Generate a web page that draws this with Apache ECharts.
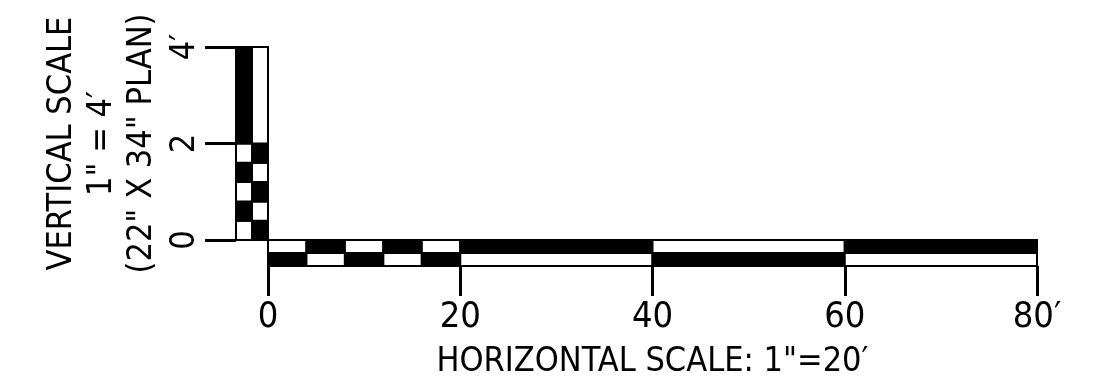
<!DOCTYPE html>
<html>
<head>
<meta charset="utf-8">
<script src="https://cdn.jsdelivr.net/npm/echarts@6/dist/echarts.min.js"></script>
<style>
  html, body { margin: 0; padding: 0; background: #fff; }
  #chart { width: 1110px; height: 380px; }
</style>
</head>
<body>
<div id="chart"></div>
<script>
// horizontal scale, feet
const hBreaks = [0, 4, 8, 12, 16, 20, 40, 60, 80];
const hTicks = [0, 20, 40, 60, 80];
const hTickLabels = ['0', '20', '40', '60', '80′'];
const hTitle = 'HORIZONTAL SCALE: 1"=20′';

// vertical scale, feet
const vBreaks = [0, 0.4, 0.8, 1.2, 1.6, 2, 4];
const vTicks = [0, 2, 4];
const vTickLabels = ['0', '2', '4′'];
const vTitle = ['VERTICAL SCALE', '1" = 4′', '(22" X 34" PLAN)'];

const FONT = '"Liberation Sans Narrow", "DejaVu Sans Condensed", sans-serif';

// cells: first segment of the top row / left column is white, then they alternate
const hCells = [];
for (let i = 0; i < hBreaks.length - 1; i++) {
  hCells.push([hBreaks[i], hBreaks[i + 1], 1, i % 2 === 0 ? 0 : 1]);
  hCells.push([hBreaks[i], hBreaks[i + 1], 0, i % 2 === 0 ? 1 : 0]);
}
const vCells = [];
for (let i = 0; i < vBreaks.length - 1; i++) {
  vCells.push([0, vBreaks[i], vBreaks[i + 1], i % 2 === 0 ? 0 : 1]);
  vCells.push([1, vBreaks[i], vBreaks[i + 1], i % 2 === 0 ? 1 : 0]);
}

const fills = ['#fff', '#000'];

function hRect(params, api) {
  const a = api.coord([api.value(0), api.value(2) + 1]);
  const b = api.coord([api.value(1), api.value(2)]);
  return {
    type: 'rect',
    shape: { x: a[0], y: a[1], width: b[0] - a[0], height: b[1] - a[1] },
    style: { fill: fills[api.value(3)], stroke: '#000', lineWidth: 2 }
  };
}

function vRect(params, api) {
  const a = api.coord([api.value(0), api.value(2)]);
  const b = api.coord([api.value(0) + 1, api.value(1)]);
  return {
    type: 'rect',
    shape: { x: a[0], y: a[1], width: b[0] - a[0], height: b[1] - a[1] },
    style: { fill: fills[api.value(3)], stroke: '#000', lineWidth: 2 }
  };
}

const chart = echarts.init(document.getElementById('chart'));

chart.setOption({
  animation: false,
  backgroundColor: '#fff',
  grid: [
    { left: 268, right: 73, top: 240, height: 30 },
    { left: 236, width: 32, top: 47, height: 193 }
  ],
  xAxis: [
    {
      gridIndex: 0,
      type: 'value',
      min: 0,
      max: 80,
      interval: 20,
      splitLine: { show: false },
      axisLine: { show: true, lineStyle: { color: '#000', width: 2 } },
      axisTick: { show: true, length: 30, lineStyle: { color: '#000', width: 3 } },
      axisLabel: {
        margin: 34,
        color: '#000',
        fontSize: 36,
        fontFamily: FONT,
        formatter: v => hTickLabels[hTicks.indexOf(v)]
      },
      name: hTitle,
      nameLocation: 'middle',
      nameGap: 79,
      nameTextStyle: { color: '#000', fontSize: 34, fontFamily: FONT }
    },
    {
      gridIndex: 1,
      type: 'value',
      min: 0,
      max: 2,
      show: false
    }
  ],
  yAxis: [
    {
      gridIndex: 0,
      type: 'value',
      min: 0,
      max: 2,
      show: false
    },
    {
      gridIndex: 1,
      type: 'value',
      min: 0,
      max: 4,
      interval: 2,
      splitLine: { show: false },
      axisLine: { show: false },
      axisTick: { show: true, length: 31, lineStyle: { color: '#000', width: 3 } },
      axisLabel: {
        rotate: 90,
        margin: 34,
        color: '#000',
        fontSize: 34,
        fontFamily: FONT,
        formatter: v => vTickLabels[vTicks.indexOf(v)]
      },
      name: vTitle.join('\n'),
      nameLocation: 'middle',
      nameRotate: 90,
      nameGap: 74,
      nameTextStyle: { color: '#000', fontSize: 34, lineHeight: 40, fontFamily: FONT, align: 'center' }
    }
  ],
  series: [
    {
      type: 'custom',
      xAxisIndex: 0,
      yAxisIndex: 0,
      renderItem: hRect,
      encode: { x: [0, 1], y: 2 },
      data: hCells
    },
    {
      type: 'custom',
      xAxisIndex: 1,
      yAxisIndex: 1,
      renderItem: vRect,
      encode: { x: 0, y: [1, 2] },
      data: vCells
    }
  ]
});
</script>
</body>
</html>
